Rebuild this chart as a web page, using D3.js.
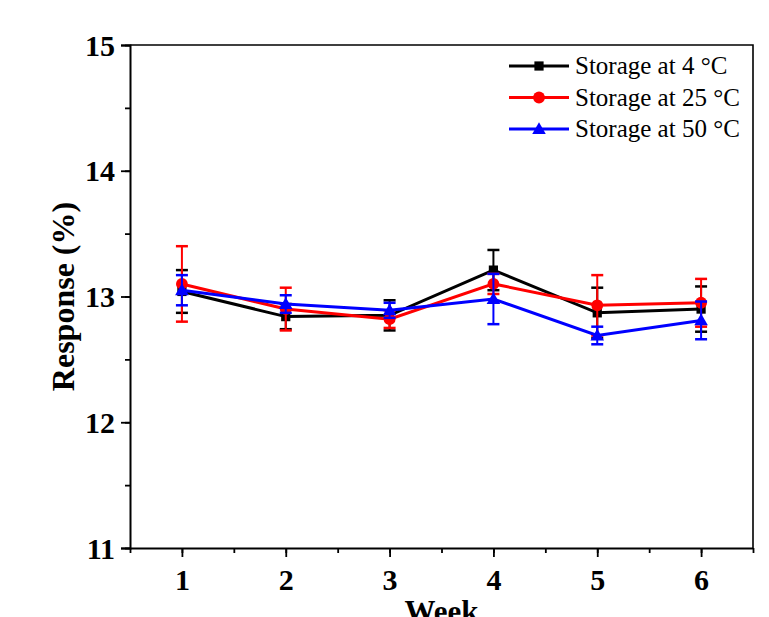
<!DOCTYPE html>
<html><head><meta charset="utf-8">
<script src="https://cdn.jsdelivr.net/npm/d3@7"></script>
<style>body{margin:0;background:#fff}svg{display:block}</style>
</head><body>
<svg id="c" width="769" height="617"></svg>
<script>
const weeks = [1, 2, 3, 4, 5, 6];
const seriesNames = ["Storage at 4 °C", "Storage at 25 °C", "Storage at 50 °C"];
const seriesColors = ["#000000", "#ff0000", "#0000ff"];
const values4 = [13.04, 12.84, 12.85, 13.21, 12.87, 12.90];
const values25 = [13.10, 12.90, 12.82, 13.10, 12.93, 12.95];
const values50 = [13.05, 12.94, 12.89, 12.98, 12.69, 12.81];
const err4 = [0.17, 0.10, 0.12, 0.16, 0.20, 0.18];
const err25 = [0.30, 0.17, 0.07, 0.08, 0.24, 0.19];
const err50 = [0.12, 0.07, 0.06, 0.20, 0.07, 0.15];
const yTicks = [11, 12, 13, 14, 15];
const xLabel = "Week";
const yLabel = "Response (%)";

const svg = d3.select("#c");
const L = 130, R = 753, T = 45, B = 548;
const x = d3.scaleLinear().domain([0.5, 6.5]).range([L, R]);
const y = d3.scaleLinear().domain([11, 15]).range([B, T]);
const font = "'Liberation Serif','Times New Roman',serif";

// frame top/right
svg.append("path").attr("d", `M${L},${T}H${R}V${B}`).attr("fill", "none").attr("stroke", "#000").attr("stroke-width", 1.6);

// minor ticks
const gx = svg.append("g").attr("transform", `translate(0,${B})`);
gx.call(d3.axisBottom(x).tickValues(d3.range(0.5, 7, 0.5)).tickSize(5).tickFormat(""));
gx.call(g => g.select(".domain").remove());
const gx2 = svg.append("g").attr("transform", `translate(0,${B})`);
gx2.call(d3.axisBottom(x).tickValues(weeks).tickSize(9).tickPadding(8).tickFormat(d3.format("d")));
gx2.select(".domain").attr("d", `M${L},0.5H${R}`);
const gy = svg.append("g").attr("transform", `translate(${L},0)`);
gy.call(d3.axisLeft(y).tickValues(d3.range(11, 15.01, 0.5)).tickSize(5).tickFormat(""));
gy.call(g => g.select(".domain").remove());
const gy2 = svg.append("g").attr("transform", `translate(${L},0)`);
gy2.call(d3.axisLeft(y).tickValues(yTicks).tickSize(9).tickPadding(6).tickFormat(d3.format("d")));
[gx, gx2, gy, gy2].forEach(g => {
  g.selectAll("line").attr("stroke", "#000").attr("stroke-width", 1.8);
  g.selectAll("path").attr("stroke", "#000").attr("stroke-width", 2);
  g.selectAll("text").attr("font-family", font).attr("font-weight", "bold").attr("font-size", 30).attr("fill", "#000");
});
gx2.selectAll("text").attr("dy", "0.82em");
gy2.selectAll("text").attr("dy", "0.34em");

// axis titles
svg.append("text").attr("x", (L + R) / 2).attr("y", 622).attr("text-anchor", "middle")
  .attr("font-family", font).attr("font-weight", "bold").attr("font-size", 31).text(xLabel);
svg.append("text").attr("transform", `translate(74,${(T + B) / 2}) rotate(-90)`).attr("text-anchor", "middle")
  .attr("font-family", font).attr("font-weight", "bold").attr("font-size", 32).text(yLabel);

const series = [
  { name: seriesNames[0], color: seriesColors[0], v: values4, e: err4, shape: "square" },
  { name: seriesNames[1], color: seriesColors[1], v: values25, e: err25, shape: "circle" },
  { name: seriesNames[2], color: seriesColors[2], v: values50, e: err50, shape: "triangle" }
];
const sym = { square: d3.symbolSquare, circle: d3.symbolCircle, triangle: d3.symbolTriangle };
const symSize = { square: 85, circle: 110, triangle: 80 };
const line = d3.line().x((d, i) => x(weeks[i])).y(d => y(d));

series.forEach(s => {
  const g = svg.append("g");
  // error bars
  weeks.forEach((w, i) => {
    const cx = x(w), y1 = y(s.v[i] + s.e[i]), y2 = y(s.v[i] - s.e[i]);
    g.append("line").attr("x1", cx).attr("x2", cx).attr("y1", y1).attr("y2", y2).attr("stroke", s.color).attr("stroke-width", 2);
    [y1, y2].forEach(yy => g.append("line").attr("x1", cx - 6).attr("x2", cx + 6).attr("y1", yy).attr("y2", yy).attr("stroke", s.color).attr("stroke-width", 2.5));
  });
  g.append("path").attr("d", line(s.v)).attr("fill", "none").attr("stroke", s.color).attr("stroke-width", 3);
  g.selectAll(".m").data(s.v).join("path")
    .attr("transform", (d, i) => `translate(${x(weeks[i])},${y(d) + (s.shape === "triangle" ? 1 : 0)})`)
    .attr("d", d3.symbol(sym[s.shape], symSize[s.shape])).attr("fill", s.color);
});

// legend
const lg = svg.append("g");
series.forEach((s, i) => {
  const yy = 66 + i * 31.5;
  lg.append("line").attr("x1", 509).attr("x2", 569).attr("y1", yy).attr("y2", yy).attr("stroke", s.color).attr("stroke-width", 3);
  lg.append("path").attr("transform", `translate(539,${yy + (s.shape === "triangle" ? 1 : 0)})`)
    .attr("d", d3.symbol(sym[s.shape], symSize[s.shape])).attr("fill", s.color);
  lg.append("text").attr("x", 575).attr("y", yy).attr("dy", "0.33em").attr("font-family", font)
    .attr("font-size", 25).attr("fill", "#000").text(s.name);
});
</script>
</body></html>
